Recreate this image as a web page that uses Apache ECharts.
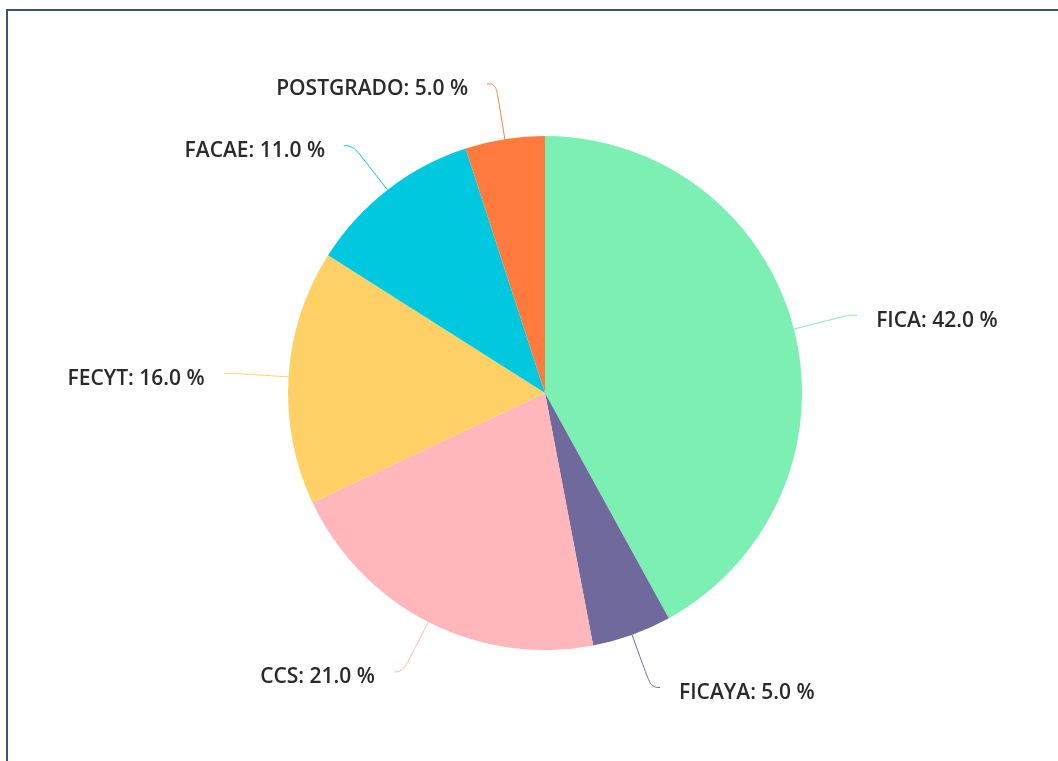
<!DOCTYPE html>
<html>
<head>
<meta charset="utf-8">
<script src="https://cdn.jsdelivr.net/npm/echarts@6/dist/echarts.min.js"></script>
<style>
  html,body{margin:0;padding:0;background:#fff;}
  #frame{position:absolute;left:6px;top:9px;width:1052px;height:752px;
    border-top:2px solid #3b5276;border-left:2px solid #3b5276;box-sizing:border-box;}
  #chart{position:absolute;left:0;top:0;width:1058px;height:761px;}
</style>
</head>
<body>
<div id="frame"></div>
<div id="chart"></div>
<script>
var names=['FICA','FICAYA','CCS','FECYT','FACAE','POSTGRADO'];
var values=[42,5,21,16,11,5];
var colors=['#7cf0b2','#6f6a9b','#ffb7bb','#ffd066','#00c9df','#ff7a3d'];

var objEcharts=echarts.init(document.getElementById('chart'));
var data=names.map(function(n,i){
  return {name:n,value:values[i],itemStyle:{color:colors[i]}};
});

var option={
  animation:false,
  series:[{
    type:'pie',
    center:[545,393],
    radius:[0,257],
    startAngle:90,
    clockwise:true,
    data:data,
    label:{
      formatter:function(p){ return '{t|'+p.name+': '+p.percent.toFixed(1)+' %}'; },
      lineHeight:32,
      distanceToLabelLine:19,
      rich:{
        t:{
          fontFamily:'Open Sans',
          fontWeight:600,
          fontSize:21,
          color:'#2a2a2a',
          lineHeight:32,
          verticalAlign:'bottom'
        }
      }
    },
    labelLine:{
      length:56,
      length2:9,
      smooth:0.5,
      lineStyle:{width:1}
    },
    emphasis:{disabled:true}
  }]
};
objEcharts.setOption(option);
</script>
</body>
</html>
